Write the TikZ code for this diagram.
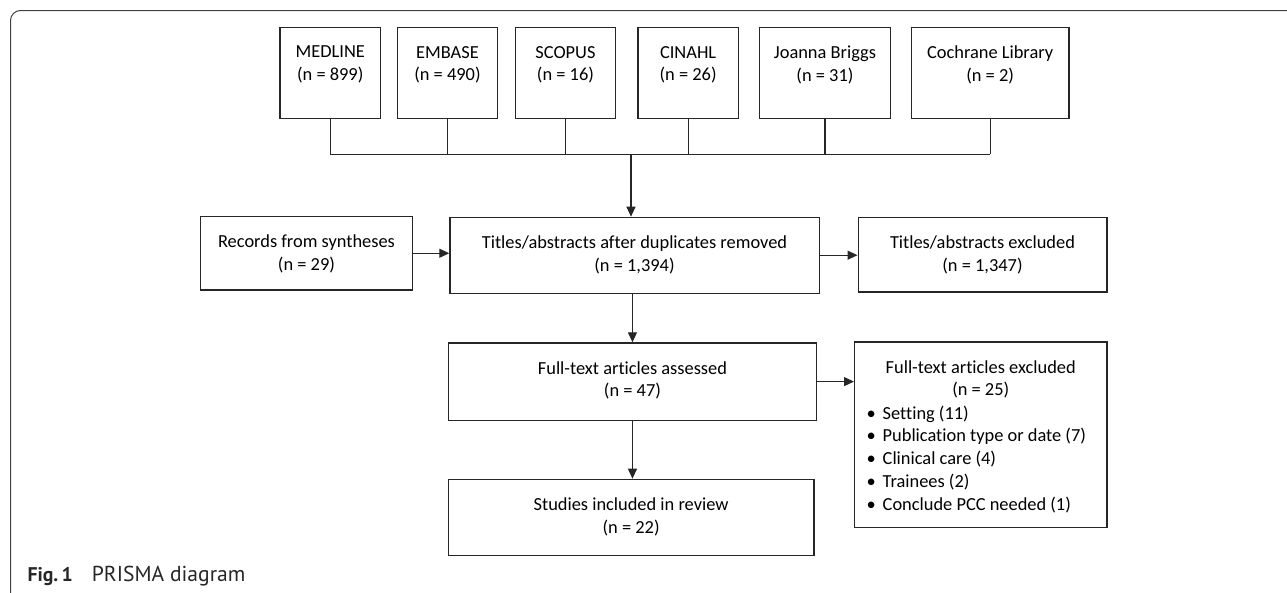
\documentclass[tikz,border=0pt]{standalone}
\usepackage{fontspec}
\setmainfont{Carlito}[Ligatures=NoCommon]
\newfontfamily\capfont{PT Sans}
\usetikzlibrary{arrows.meta,calc}
\begin{document}
\begin{tikzpicture}[x=1pt,y=-1pt,
  box/.style={draw=black!85, line width=1.2pt, rectangle, inner sep=0pt, anchor=north west},
  txt/.style={anchor=north, inner sep=0pt, align=center, font=\fontsize{18.4}{22.7}\selectfont, execute at begin node=\strut},
  lst/.style={anchor=north west, inner sep=0pt, align=left, font=\fontsize{18.4}{22.7}\selectfont, execute at begin node=\strut},
  conn/.style={draw=black!85, line width=1.2pt},
  arr/.style={conn, -{Triangle[length=10pt,width=9pt]}},
  frame/.style={draw=black!75, line width=1pt, rounded corners=10pt}]
\useasboundingbox (0,0) rectangle (1287,592);
% outer frame
\coordinate (fbl) at (10.5,600);
\coordinate (ftl) at (10.5,10.5);
\coordinate (ftr) at (1295,10.5);
\draw[frame] (fbl) -- (ftl) -- (ftr);

% top row
\node[box, minimum width=100.7pt, minimum height=90.7pt] (med) at (279.3,27) {};
\node[box, minimum width=100.3pt, minimum height=90.7pt] (emb) at (396.7,27) {};
\node[box, minimum width=100.3pt, minimum height=90.7pt] (sco) at (514.7,27) {};
\node[box, minimum width=100.4pt, minimum height=90.7pt] (cin) at (637.3,27) {};
\node[box, minimum width=131.3pt, minimum height=90.7pt] (joa) at (758.7,27) {};
\node[box, minimum width=157.6pt, minimum height=90.7pt] (coc) at (910.7,27) {};
\node[txt] (medT) at ($(med.north)+(0,18.9)$) {MEDLINE\\(n = 899)};
\node[txt] (embT) at ($(emb.north)+(0,18.9)$) {EMBASE\\(n = 490)};
\node[txt] (scoT) at ($(sco.north)+(0,18.9)$) {SCOPUS\\(n = 16)};
\node[txt] (cinT) at ($(cin.north)+(0,18.9)$) {CINAHL\\(n = 26)};
\node[txt] (joaT) at ($(joa.north)+(0,18.9)$) {Joanna Briggs\\(n = 31)};
\node[txt] (cocT) at ($(coc.north)+(0,18.9)$) {Cochrane Library\\(n = 2)};

% middle rows
\node[box, minimum width=211.7pt, minimum height=73.3pt] (rec) at (200,216) {};
\node[txt] (recT) at ($(rec.north)+(0,18.9)$) {Records from syntheses\\(n = 29)};
\node[box, minimum width=369.2pt, minimum height=75.8pt] (tit) at (449.3,216.7) {};
\node[txt] (titT) at ($(tit.north)+(0,18.9)$) {Titles/abstracts after duplicates removed\\(n = 1,394)};
\node[box, minimum width=248.8pt, minimum height=74.6pt] (tex) at (857.5,216.7) {};
\node[txt] (texT) at ($(tex.north)+(0,18.9)$) {Titles/abstracts excluded\\(n = 1,347)};

\node[box, minimum width=368.3pt, minimum height=77.4pt] (ft) at (447.7,342.3) {};
\node[txt] (ftT) at ($(ft.north)+(0,18.9)$) {Full-text articles assessed\\(n = 47)};
\node[box, minimum width=252.3pt, minimum height=185.4pt] (fex) at (854,341.3) {};
\node[txt] (fexT) at ($(fex.north)+(0,18.9)$) {Full-text articles excluded\\(n = 25)};
\node[lst] (fexL) at ($(fex.north west)+(12.5,64.3)$) {\makebox[16pt][l]{•}Setting (11)\\
\makebox[16pt][l]{•}Publication type or date (7)\\
\makebox[16pt][l]{•}Clinical care (4)\\
\makebox[16pt][l]{•}Trainees (2)\\
\makebox[16pt][l]{•}Conclude PCC needed (1)};

\node[box, minimum width=365.6pt, minimum height=76pt] (st) at (447.7,478.7) {};
\node[txt] (stT) at ($(st.north)+(0,18.9)$) {Studies included in review\\(n = 22)};

% bus
\coordinate (busy) at (0,154.3);
\coordinate (busmid) at (631,154.3);
\foreach \n in {med,emb,sco,cin,joa,coc}{
  \draw[conn] (\n.south) -- (\n.south |- busy);
}
\draw[conn] (med.south |- busy) -- (coc.south |- busy);
\draw[arr] (busmid) -- (busmid |- tit.north);

% arrows
\draw[arr] (rec.east) -- (rec.east -| tit.west);
\draw[arr] (tit.east) -- (tit.east -| tex.west);
\draw[arr] (tit.south -| ft.north) -- (ft.north);
\draw[arr] (ft.east) -- (ft.east -| fex.west);
\draw[arr] (ft.south) -- (ft.south |- st.north);

% caption
\node[anchor=base west, inner sep=0pt, font=\capfont\fontsize{21.6}{24}\selectfont, text=black!85] (cap) at (27.3,581.7) {{\fontsize{19.8}{24}\selectfont\bfseries Fig.\,1}\hspace{19pt}PRISMA diagram};
\end{tikzpicture}
\end{document}
